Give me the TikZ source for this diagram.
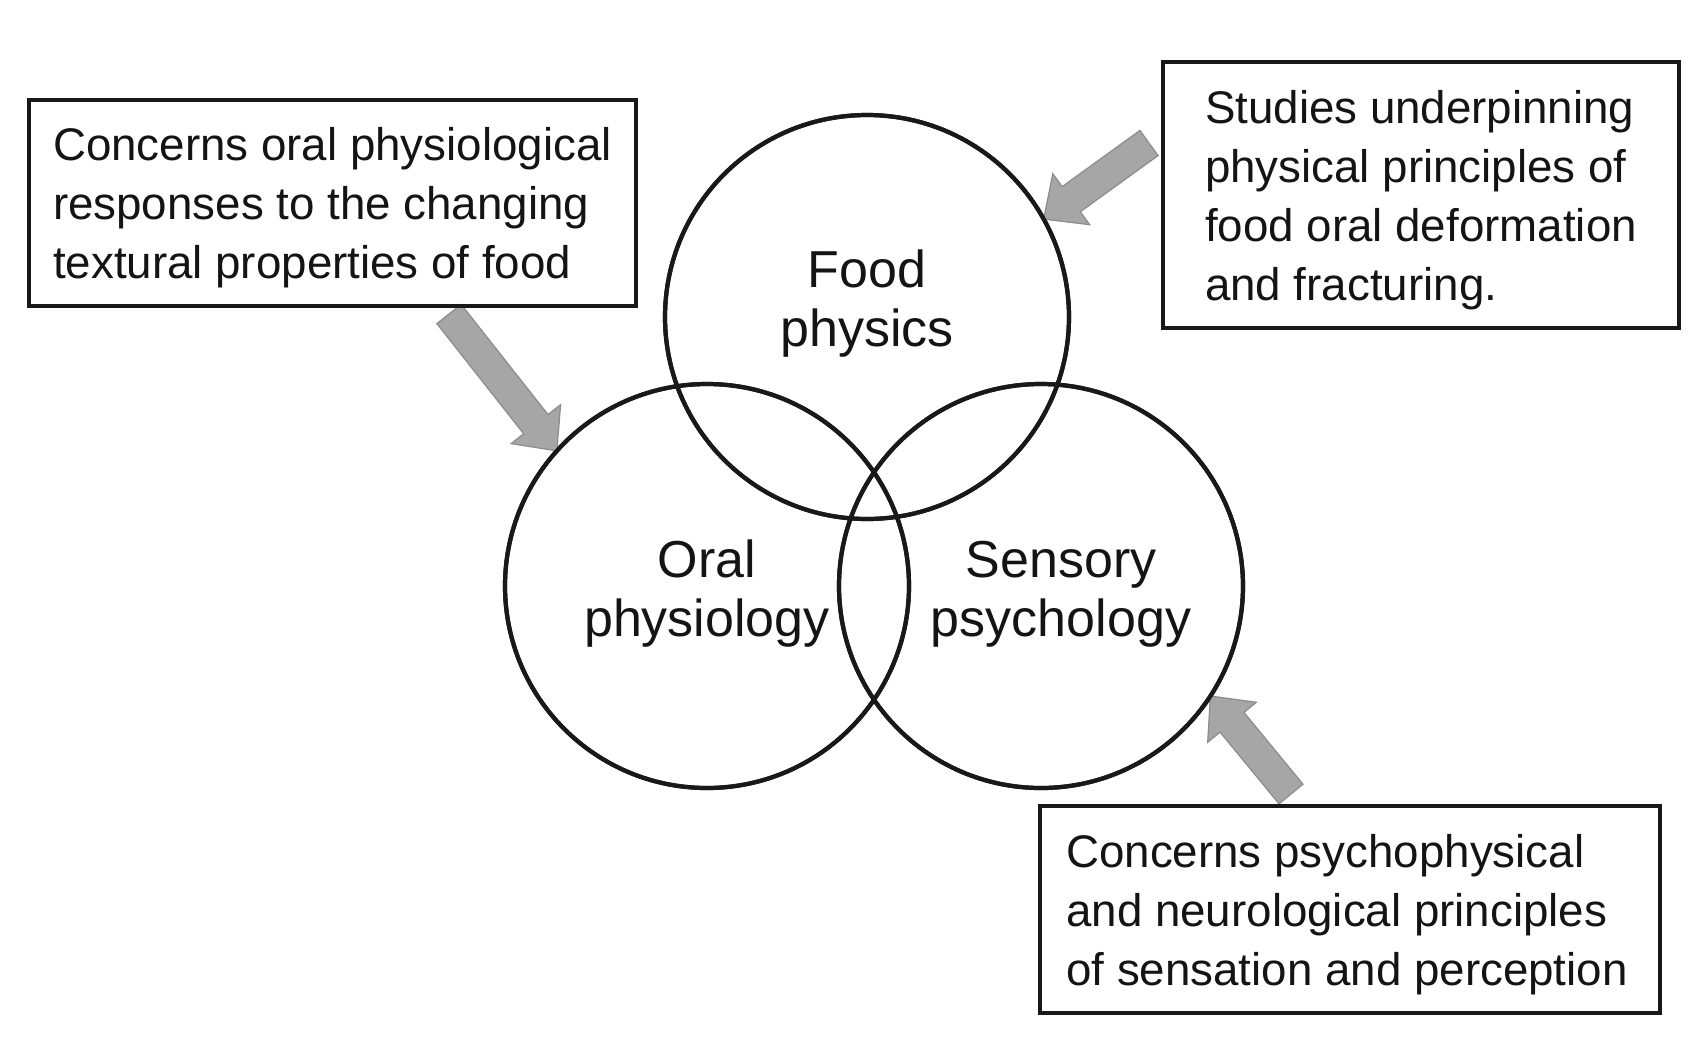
\documentclass[tikz,border=0pt]{standalone}
\usepackage{fontspec}
\setmainfont{Liberation Sans}
\usetikzlibrary{calc}
\newcommand{\grayarrow}[3]{%
  \coordinate (#3) at ($(#2)!17pt!(#1)$);
  \draw[blockarrow] ($(#1)!7.75pt!90:(#2)$) -- ($(#3)!7.75pt!90:(#2)$) -- ($(#3)!15.75pt!90:(#2)$) -- (#2) -- ($(#3)!15.75pt!-90:(#2)$) -- ($(#3)!7.75pt!-90:(#2)$) -- ($(#1)!7.75pt!-90:(#2)$) -- cycle;}
\begin{document}
\begin{tikzpicture}[x=0.5pt,y=-0.5pt,
  ring/.style={circle,draw=black!90,line width=2.1pt,minimum size=202pt,inner sep=0pt,outer sep=0pt},
  infobox/.style={draw=black!90,line width=2.1pt,inner sep=0pt,outer sep=0pt},
  boxtext/.style={align=left,inner sep=0pt,font=\fontsize{22.85pt}{29.5pt}\selectfont,text=black!92},
  circlabel/.style={align=center,inner sep=0pt,font=\fontsize{26pt}{29.5pt}\selectfont,text=black!92},
  blockarrow/.style={fill=black!35,draw=black!45,line width=0.6pt,line join=miter}]
\useasboundingbox[fill=white] (0,0) rectangle (1704,1062);

% circles (placed first for anchors)
\node[ring] (food) at (867,317) {};
\node[ring] (oral) at (707,586) {};
\node[ring] (sensory) at (1041,586) {};

% boxes
\node[infobox,minimum width=303.5pt,minimum height=103pt] (leftbox) at (332.5,203) {};
\node[infobox,minimum width=258pt,minimum height=133pt] (toprightbox) at (1421,195) {};
\node[infobox,minimum width=310pt,minimum height=103.5pt] (botrightbox) at (1350,909.5) {};

% arrows
\coordinate (t1) at (449,314);
\coordinate (e1) at (oral.138);
\coordinate (t2) at (1149,143);
\coordinate (e2) at (food.29);
\coordinate (t3) at (1291,794);
\coordinate (e3) at (sensory.-33);
\grayarrow{t1}{e1}{b1}
\grayarrow{t2}{e2}{b2}
\grayarrow{t3}{e3}{b3}

% outlines on top of the arrows
\draw[draw=black!90,line width=2.1pt] (food) circle (101pt);
\draw[draw=black!90,line width=2.1pt] (oral) circle (101pt);
\draw[draw=black!90,line width=2.1pt] (sensory) circle (101pt);
\draw[draw=black!90,line width=2.1pt] (leftbox.south west) rectangle (leftbox.north east);
\draw[draw=black!90,line width=2.1pt] (toprightbox.south west) rectangle (toprightbox.north east);
\draw[draw=black!90,line width=2.1pt] (botrightbox.south west) rectangle (botrightbox.north east);

% box texts
\node[boxtext] (lefttxt) at ($(leftbox.center)+(0,5)$)
  {Concerns oral physiological\\responses to the changing\\textural properties of food};
\node[boxtext] (toprighttxt) at ($(toprightbox.center)+(0,5)$)
  {Studies underpinning\\physical principles of\\food oral deformation\\and fracturing.};
\node[boxtext] (botrighttxt) at ($(botrightbox.center)+(-3,5)$)
  {Concerns psychophysical\\and neurological principles\\of sensation and perception};

% circle labels
\node[circlabel] (foodtxt) at (867,304) {Food\\physics};
\node[circlabel] (oraltxt) at (707,594) {Oral\\physiology};
\node[circlabel] (sensorytxt) at (1061,594) {Sensory\\psychology};
\end{tikzpicture}
\end{document}
